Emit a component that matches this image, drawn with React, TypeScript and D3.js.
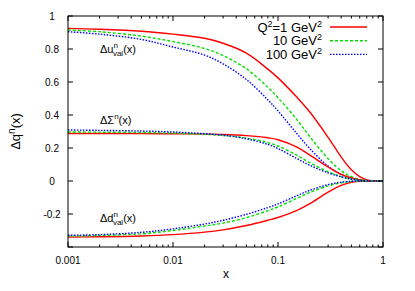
import * as d3 from 'd3';

const W = 415;
const H = 291;
const M = { left: 68, right: 32, top: 16, bottom: 44 };

const xs = [0.001, 0.002, 0.005, 0.01, 0.02, 0.03, 0.05, 0.08, 0.1, 0.15, 0.2, 0.3, 0.4, 0.5, 0.6, 0.7, 0.8, 0.9, 1];

// Δu_val^n
const duQ1 = [0.925, 0.92, 0.908, 0.89, 0.865, 0.835, 0.775, 0.678, 0.625, 0.51, 0.42, 0.265, 0.145, 0.068, 0.026, 0.007, 0.001, 0, 0];
const duQ10 = [0.915, 0.905, 0.878, 0.845, 0.803, 0.76, 0.68, 0.568, 0.505, 0.375, 0.27, 0.135, 0.062, 0.026, 0.01, 0.003, 0.001, 0, 0];
const duQ100 = [0.905, 0.89, 0.858, 0.812, 0.763, 0.71, 0.615, 0.492, 0.425, 0.29, 0.198, 0.09, 0.04, 0.017, 0.006, 0.002, 0, 0, 0];

// ΔΣ^n
const dsQ1 = [0.288, 0.288, 0.287, 0.286, 0.284, 0.282, 0.275, 0.262, 0.25, 0.207, 0.158, 0.085, 0.04, 0.018, 0.007, 0.003, 0.001, 0, 0];
const dsQ10 = [0.297, 0.296, 0.294, 0.29, 0.283, 0.276, 0.26, 0.233, 0.212, 0.157, 0.112, 0.056, 0.027, 0.012, 0.005, 0.002, 0, 0, 0];
const dsQ100 = [0.309, 0.307, 0.303, 0.297, 0.287, 0.278, 0.256, 0.222, 0.197, 0.137, 0.096, 0.049, 0.025, 0.011, 0.004, 0.001, 0, 0, 0];

// Δd_val^n
const ddQ1 = [-0.34, -0.338, -0.333, -0.325, -0.31, -0.296, -0.27, -0.238, -0.221, -0.18, -0.138, -0.068, -0.027, -0.008, -0.002, 0, 0, 0, 0];
const ddQ10 = [-0.333, -0.33, -0.32, -0.3, -0.273, -0.255, -0.222, -0.18, -0.157, -0.106, -0.07, -0.03, -0.011, -0.003, -0.001, 0, 0, 0, 0];
const ddQ100 = [-0.329, -0.325, -0.311, -0.29, -0.261, -0.238, -0.202, -0.161, -0.139, -0.09, -0.057, -0.022, -0.007, -0.002, 0, 0, 0, 0, 0];

const xMajor = [0.001, 0.01, 0.1, 1];
const xMajorLabels = ['0.001', '0.01', '0.1', '1'];
const yTicks = [-0.4, -0.2, 0, 0.2, 0.4, 0.6, 0.8, 1];
const yTickLabels = ['', '-0.2', '0', '0.2', '0.4', '0.6', '0.8', '1'];

const seriesStyles = [
  { key: 'Q1', color: '#ff0000', dash: '', label: ['Q', '=1 GeV'] },
  { key: 'Q10', color: '#00e000', dash: '3,2', label: ['', '10 GeV'] },
  { key: 'Q100', color: '#0000ff', dash: '1.5,1.5', label: ['', '100 GeV'] },
];

const groups = [
  [duQ1, duQ10, duQ100],
  [dsQ1, dsQ10, dsQ100],
  [ddQ1, ddQ10, ddQ100],
];

export default function App() {
  const iw = W - M.left - M.right;
  const ih = H - M.top - M.bottom;
  const x = d3.scaleLog().domain([0.001, 1]).range([M.left, M.left + iw]);
  const y = d3.scaleLinear().domain([-0.4, 1]).range([M.top + ih, M.top]);

  const line = d3
    .line<[number, number]>()
    .x(d => x(d[0]))
    .y(d => y(d[1]))
    .curve(d3.curveCatmullRom.alpha(0.5));

  const minor: number[] = [];
  for (const dec of [0.001, 0.01, 0.1]) {
    for (let k = 2; k <= 9; k++) minor.push(dec * k);
  }

  const font = 'Liberation Sans, Arial, sans-serif';
  const x0 = M.left;
  const x1 = M.left + iw;
  const y0 = M.top + ih;
  const y1 = M.top;

  return (
    <svg width={W} height={H} style={{ position: 'absolute', left: 0, top: 0, background: '#fff' }} fontFamily={font}>
      {/* curves */}
      {groups.map((g, gi) =>
        g.map((vals, si) => {
          const st = seriesStyles[si];
          const pts = xs.map((xv, i) => [xv, vals[i]] as [number, number]);
          return (
            <path
              key={`${gi}-${si}`}
              d={line(pts) || ''}
              fill="none"
              stroke={st.color}
              strokeWidth={1.4}
              strokeDasharray={st.dash || undefined}
            />
          );
        })
      )}

      {/* border */}
      <rect x={x0} y={y1} width={iw} height={ih} fill="none" stroke="#000" strokeWidth={1} />

      {/* y ticks */}
      {yTicks.map((t, i) => (
        <g key={`y${i}`}>
          <line x1={x0} x2={x0 + 5} y1={y(t)} y2={y(t)} stroke="#000" />
          <line x1={x1} x2={x1 - 5} y1={y(t)} y2={y(t)} stroke="#000" />
          <text x={52} y={y(t) + 3.5} textAnchor="middle" fontSize={10}>
            {yTickLabels[i]}
          </text>
        </g>
      ))}

      {/* x ticks */}
      {xMajor.map((t, i) => (
        <g key={`x${i}`}>
          <line x1={x(t)} x2={x(t)} y1={y0} y2={y0 - 5} stroke="#000" />
          <line x1={x(t)} x2={x(t)} y1={y1} y2={y1 + 5} stroke="#000" />
          <text x={x(t)} y={264} textAnchor="middle" fontSize={10}>
            {xMajorLabels[i]}
          </text>
        </g>
      ))}
      {minor.map((t, i) => (
        <g key={`m${i}`}>
          <line x1={x(t)} x2={x(t)} y1={y0} y2={y0 - 2.5} stroke="#000" />
          <line x1={x(t)} x2={x(t)} y1={y1} y2={y1 + 2.5} stroke="#000" />
        </g>
      ))}

      {/* axis labels */}
      <text x={226} y={278} textAnchor="middle" fontSize={12}>x</text>
      <text transform={`translate(20,${(y0 + y1) / 2}) rotate(-90)`} textAnchor="middle" fontSize={13}>
        Δq<tspan dy={-5} fontSize={10}>n</tspan><tspan dy={5}>(x)</tspan>
      </text>

      {/* annotations */}
      <text x={100} y={53} fontSize={11}>
        Δu<tspan dy={-5} fontSize={8}>n</tspan><tspan dx={-5} dy={8} fontSize={8}>val</tspan><tspan dy={-3}>(x)</tspan>
      </text>
      <text x={100} y={124} fontSize={11}>
        ΔΣ<tspan dy={-5} fontSize={8}>n</tspan><tspan dy={5}>(x)</tspan>
      </text>
      <text x={100} y={222} fontSize={11}>
        Δd<tspan dy={-5} fontSize={8}>n</tspan><tspan dx={-5} dy={8} fontSize={8}>val</tspan><tspan dy={-3}>(x)</tspan>
      </text>

      {/* legend */}
      {seriesStyles.map((st, i) => {
        const ly = 27 + i * 13.7;
        return (
          <g key={`l${i}`}>
            <text x={322} y={ly + 4.5} textAnchor="end" fontSize={13}>
              {st.label[0] ? (
                <>
                  {st.label[0]}
                  <tspan dy={-5} fontSize={9}>2</tspan>
                  <tspan dy={5}>{st.label[1]}</tspan>
                </>
              ) : (
                st.label[1]
              )}
              <tspan dy={-5} fontSize={9}>2</tspan>
            </text>
            <line x1={330} x2={367} y1={ly} y2={ly} stroke={st.color} strokeWidth={1.4} strokeDasharray={st.dash || undefined} />
          </g>
        );
      })}
    </svg>
  );
}
